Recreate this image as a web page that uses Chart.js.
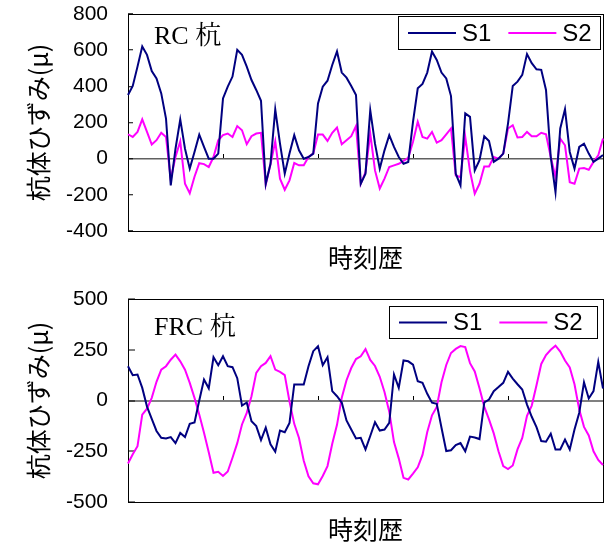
<!DOCTYPE html>
<html>
<head>
<meta charset="utf-8">
<script src="https://cdn.jsdelivr.net/npm/chart.js@4.4.1/dist/chart.umd.min.js"></script>
<style>
  html, body { margin: 0; padding: 0; background: #fff; }
  canvas { display: block; }
</style>
</head>
<body>
<canvas id="rcChart" width="607" height="272"></canvas>
<canvas id="frcChart" width="607" height="272"></canvas>
<script>
// RC 杭 (top)
const rcS1 = [352, 402, 509, 620, 574, 485, 444, 361, 222, -148, 55, 217, 55, -55, 37, 133, 65, 0, 0, 28,
  333, 398, 454, 602, 574, 509, 435, 380, 320, -139, -28, 272, 83, -83, 28, 130, 46, 0, 9, 28,
  305, 398, 431, 518, 593, 476, 448, 402, 352, -139, -83, 268, 83, -55, 46, 130, 65, 9, -28, -18,
  204, 389, 413, 476, 593, 546, 476, 444, 346, -83, -148, 250, 231, -65, -9, 124, 98, -18, 0, 28,
  194, 402, 426, 463, 578, 528, 494, 491, 380, 9, -185, 167, 274, 37, -55, 65, 83, 28, -18, 0, 20];
const rcS2 = [135, 120, 148, 217, 148, 78, 102, 143, 120, -115, 10, 96, -139, -191, -100, -25, -30, -46, 9, 102,
  130, 139, 120, 180, 157, 80, 124, 139, 143, -143, -31, 96, -111, -172, -120, -24, -37, -37, 9, 28,
  133, 133, 98, 143, 172, 80, 102, 124, 180, -139, -74, 139, -65, -165, -110, -46, -37, -28, -12, 5,
  93, 204, 120, 111, 148, 89, 102, 135, 167, -93, -102, 120, -70, -194, -139, -43, -43, 9, 0, 28,
  167, 185, 117, 120, 148, 124, 124, 143, 135, 9, -102, 111, 74, -130, -139, -55, -52, -61, -18, 18, 111];

// FRC 杭 (bottom)
const frcS1 = [169, 125, 128, 62, -30, -90, -150, -184, -187, -180, -210, -160, -180, -115, -108, 0, 103, 60, 213, 174,
  218, 169, 164, 110, -25, -10, -102, -126, -195, -134, -216, -252, -148, -156, -110, 79, 79, 79, 169, 243,
  267, 174, 213, 46, 21, -10, -98, -143, -187, -184, -241, -175, -107, -148, -143, -110, 128, 62, 197, 193,
  177, 95, 87, 33, -11, -16, -134, -249, -245, -220, -210, -250, -178, -182, -190, -10, 5, 46, 66, 87,
  141, 108, 80, 54, -20, -80, -131, -200, -203, -164, -241, -241, -192, -241, -143, -60, 90, 10, 46, 190, 59];
const frcS2 = [-310, -265, -225, -70, -40, 13, 92, 152, 169, 201, 226, 193, 152, 87, 13, -69, -159, -255, -356, -351,
  -372, -350, -282, -210, -118, -61, 21, 136, 169, 185, 218, 152, 141, 125, -5, -115, -185, -297, -373, -408,
  -413, -372, -323, -213, -120, 14, 100, 160, 204, 218, 253, 200, 170, 117, 42, -55, -205, -285, -381, -389,
  -360, -329, -268, -155, -73, -32, 90, 175, 234, 254, 268, 263, 184, 143, 60, -30, -93, -162, -250, -323,
  -338, -320, -241, -184, -75, -25, 75, 180, 224, 250, 270, 241, 197, 163, 80, -45, -130, -172, -250, -293, -318];

const timeSteps = rcS1.map((_, i) => i);
const seriesNames = ['S1', 'S2'];
const seriesColors = ['#000080', '#ff00ff'];
const yTitle = '杭体ひずみ(μ)';
const xTitle = '時刻歴';
const xTickEvery = 20;

const tickFont = { family: "'Liberation Sans', Arial, sans-serif", size: 21 };
const cjkFont = { family: "'Noto Sans CJK JP', sans-serif", size: 25 };
const clear = 'rgba(0,0,0,0)';
const edge = { display: true, color: '#000', width: 1 };

// pile label and framed legend
const decorPlugin = {
  id: 'decor',
  afterDraw(chart, args, o) {
    const { ctx } = chart;
    ctx.save();
    ctx.fillStyle = '#000';
    ctx.font = "26px 'Liberation Serif', 'Noto Serif CJK JP', 'Noto Sans CJK JP', serif";
    ctx.textBaseline = 'alphabetic';
    ctx.textAlign = 'left';
    ctx.fillText(o.label, o.labelX, o.labelY);

    const b = o.box;
    ctx.fillStyle = '#fff';
    ctx.fillRect(b.x, b.y, b.w, b.h);
    ctx.strokeStyle = '#000';
    ctx.lineWidth = 1;
    ctx.strokeRect(b.x + 0.5, b.y + 0.5, b.w, b.h);
    ctx.font = "24px 'Liberation Sans', Arial, sans-serif";
    ctx.textBaseline = 'middle';
    let lx = b.x + 10;
    const ly = b.y + b.h / 2 + 0.5;
    chart.data.datasets.forEach(ds => {
      ctx.strokeStyle = ds.borderColor;
      ctx.lineWidth = 2;
      ctx.beginPath();
      ctx.moveTo(lx, ly);
      ctx.lineTo(lx + 48, ly);
      ctx.stroke();
      ctx.fillStyle = '#000';
      ctx.fillText(ds.label, lx + 54, ly + 1);
      lx += 54 + ctx.measureText(ds.label).width + 17;
    });
    ctx.restore();
  }
};

function makeChart(id, s1, s2, cfg) {
  return new Chart(document.getElementById(id), {
    type: 'line',
    data: {
      labels: timeSteps,
      datasets: [s1, s2].map((d, i) => ({
        label: seriesNames[i],
        data: d,
        borderColor: seriesColors[i],
        backgroundColor: seriesColors[i],
        borderWidth: 2,
        pointRadius: 0,
        tension: 0,
        fill: false
      }))
    },
    options: {
      responsive: false,
      animation: false,
      layout: { padding: { top: cfg.top, right: 4, left: 0, bottom: 0 } },
      plugins: {
        legend: { display: false },
        tooltip: { enabled: false },
        decor: cfg.decor
      },
      scales: {
        x: {
          type: 'category',
          offset: false,
          ticks: { display: false },
          grid: { display: false },
          border: edge,
          title: { display: true, text: xTitle, color: '#000', font: cjkFont, padding: { top: cfg.xTitlePad, bottom: 0 } },
          afterFit: s => { s.height = cfg.xHeight; s.paddingLeft = 0; s.paddingRight = 0; }
        },
        // small marks on the zero line every 20 steps
        xz: {
          type: 'category',
          position: { y: 0 },
          offset: false,
          ticks: { display: false, autoSkip: false },
          grid: {
            drawOnChartArea: false,
            drawTicks: true,
            tickLength: -5,
            tickWidth: 1,
            tickColor: c => (c.index > 0 && c.index < timeSteps.length - 1 && c.index % xTickEvery === 0) ? '#000' : clear
          },
          border: { display: false },
          afterFit: s => { s.height = 0; s.paddingLeft = 0; s.paddingRight = 0; }
        },
        xt: {
          type: 'category',
          position: 'top',
          ticks: { display: false },
          grid: { display: false },
          border: edge,
          afterFit: s => { s.height = 0; s.paddingLeft = 0; s.paddingRight = 0; }
        },
        y: {
          min: cfg.min,
          max: cfg.max,
          ticks: { stepSize: cfg.step, color: '#000', font: tickFont, padding: 20 + cfg.yTickLen },
          grid: {
            drawTicks: true,
            tickLength: -cfg.yTickLen,
            tickWidth: 1,
            tickColor: '#000',
            color: c => (c.tick && c.tick.value === 0) ? cfg.zeroColor : clear,
            lineWidth: cfg.zeroWidth
          },
          border: edge,
          title: { display: true, text: yTitle, color: '#000', font: cjkFont, padding: { top: 23, bottom: 0 } },
          afterFit: s => { s.width = 128; s.paddingTop = 0; s.paddingBottom = 0; }
        },
        yr: {
          type: 'linear',
          position: 'right',
          ticks: { display: false },
          grid: { display: false },
          border: edge,
          afterFit: s => { s.width = 0; s.paddingTop = 0; s.paddingBottom = 0; }
        }
      }
    },
    plugins: [decorPlugin]
  });
}

makeChart('rcChart', rcS1, rcS2, {
  top: 14, xHeight: 41, xTitlePad: 10, yTickLen: 5,
  min: -400, max: 800, step: 200,
  zeroColor: '#606060', zeroWidth: 1.5,
  decor: { label: 'RC 杭', labelX: 154, labelY: 44, box: { x: 398, y: 16, w: 202, h: 33 } }
});

makeChart('frcChart', frcS1, frcS2, {
  top: 27, xHeight: 42, xTitlePad: 3, yTickLen: 7,
  min: -500, max: 500, step: 250,
  zeroColor: '#808080', zeroWidth: 2,
  decor: { label: 'FRC 杭', labelX: 154, labelY: 63, box: { x: 389, y: 34, w: 208, h: 32 } }
});
</script>
</body>
</html>
